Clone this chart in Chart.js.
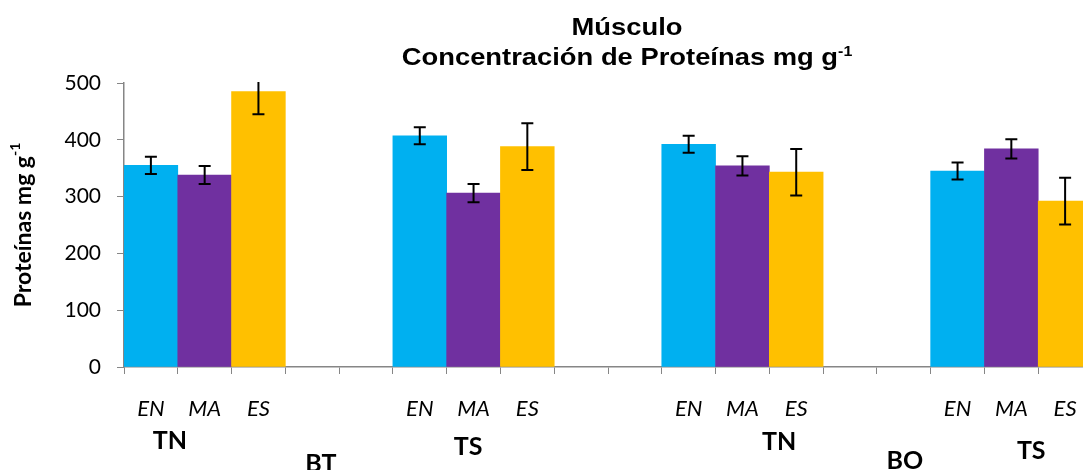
<!DOCTYPE html>
<html lang="es">
  <head>
    <meta charset="UTF-8" />
    <title>Músculo - Concentración de Proteínas</title>
    <style>
      body {
        margin: 0;
        background: white;
        overflow: hidden;
      }
      .chart-container {
        position: relative;
        width: 1100px;
        height: 470px;
      }
    </style>
    <script src="https://cdn.jsdelivr.net/npm/chart.js@4/dist/chart.umd.min.js"></script>
  </head>
  <body>
    <div class="chart-container">
      <canvas id="barChart"></canvas>
    </div>

    <script>
      // Datos
      const categorias = ["EN", "MA", "ES", "", "", "EN", "MA", "ES", "", "", "EN", "MA", "ES", "", "", "EN", "MA", "ES"];
      const proteinas = [355, 338, 485, null, null, 407, 306, 388, null, null, 392, 354, 343, null, null, 345, 384, 292];
      const errores = [15, 16, 40, null, null, 15, 16, 41, null, null, 15, 17, 41, null, null, 15, 17, 41];
      const grupos = ["TN", "BT", "TS", "TN", "BO", "TS"];
      const yTicks = [0, 100, 200, 300, 400, 500];

      // posición de las etiquetas de grupo (en anchos de categoría, px)
      const grupoPos = [
        [0.855, 441],
        [3.66, 464],
        [6.4, 447],
        [12.18, 442],
        [14.52, 461],
        [16.87, 451],
      ];

      const colorPorEtiqueta = { EN: "#00B0F0", MA: "#7030A0", ES: "#FFC000" };
      const colores = categorias.map((c) => colorPorEtiqueta[c] || "transparent");
      const gris = "#868686";

      // texto con superíndice, centrado en x
      function textoSup(ctx, base, sup, x, y, size, font) {
        const supSize = Math.round(size * 0.6);
        ctx.font = "bold " + size + "px " + font;
        const wb = ctx.measureText(base).width;
        ctx.font = "bold " + supSize + "px " + font;
        const ws = ctx.measureText(sup).width;
        const x0 = x - (wb + ws) / 2;
        ctx.textAlign = "left";
        ctx.font = "bold " + size + "px " + font;
        ctx.fillText(base, x0, y);
        ctx.font = "bold " + supSize + "px " + font;
        ctx.fillText(sup, x0 + wb, y - size * 0.38);
      }

      const extras = {
        id: "extras",
        afterDatasetsDraw(chart) {
          const { ctx, chartArea, scales } = chart;
          const x = scales.x;
          const y = scales.y;
          // barras de error
          ctx.save();
          ctx.beginPath();
          ctx.rect(chartArea.left, chartArea.top - 1, chartArea.right - chartArea.left, chartArea.bottom - chartArea.top + 1);
          ctx.clip();
          ctx.strokeStyle = "#000";
          ctx.lineWidth = 2;
          proteinas.forEach((v, i) => {
            if (v === null) return;
            const px = x.getPixelForValue(i);
            const top = y.getPixelForValue(v + errores[i]);
            const bot = y.getPixelForValue(v - errores[i]);
            ctx.beginPath();
            ctx.moveTo(px, top);
            ctx.lineTo(px, bot);
            ctx.moveTo(px - 6, top);
            ctx.lineTo(px + 6, top);
            ctx.moveTo(px - 6, bot);
            ctx.lineTo(px + 6, bot);
            ctx.stroke();
          });
          ctx.restore();
        },
        afterDraw(chart) {
          const { ctx, chartArea } = chart;
          const ancho = (chartArea.right - chartArea.left) / categorias.length;
          ctx.save();
          ctx.fillStyle = "#000";
          ctx.textBaseline = "middle";
          // etiquetas de grupo
          ctx.textAlign = "center";
          ctx.font = "bold 25px Lato";
          grupos.forEach((g, i) => {
            ctx.fillText(g, chartArea.left + grupoPos[i][0] * ancho, grupoPos[i][1]);
          });
          // título (algo ensanchado, como en el original)
          ctx.save();
          ctx.textBaseline = "alphabetic";
          ctx.translate(627, 0);
          ctx.scale(1.14, 1);
          ctx.textAlign = "center";
          ctx.font = "bold 24px 'Liberation Sans'";
          ctx.fillText("Músculo", 0, 35);
          textoSup(ctx, "Concentración de Proteínas mg g", "-1", 0, 65, 24, "'Liberation Sans'");
          ctx.restore();
          // título del eje y
          ctx.translate(24, (chartArea.top + chartArea.bottom) / 2);
          ctx.rotate(-Math.PI / 2);
          textoSup(ctx, "Proteínas mg g", "-1", 0, 0, 23, "Lato");
          ctx.restore();
        },
      };

      const ctx = document.getElementById("barChart").getContext("2d");
      new Chart(ctx, {
        type: "bar",
        data: {
          labels: categorias,
          datasets: [
            {
              data: proteinas,
              backgroundColor: colores,
              categoryPercentage: 1,
              barPercentage: 1,
            },
          ],
        },
        options: {
          responsive: true,
          maintainAspectRatio: false,
          animation: false,
          layout: { padding: { top: 83, right: 8, left: 0, bottom: 0 } },
          plugins: {
            legend: { display: false },
            tooltip: { enabled: false },
          },
          scales: {
            x: {
              offset: true,
              grid: {
                offset: true,
                drawOnChartArea: false,
                color: gris,
                tickLength: 7,
              },
              border: { color: gris, width: 1.5 },
              ticks: {
                autoSkip: false,
                maxRotation: 0,
                padding: 22,
                color: "#000",
                font: { family: "Lato", size: 22, style: "italic" },
              },
              afterFit: (s) => {
                s.height = 103;
              },
            },
            y: {
              min: 0,
              max: 500,
              afterBuildTicks: (s) => {
                s.ticks = yTicks.map((v) => ({ value: v }));
              },
              grid: {
                drawOnChartArea: false,
                color: gris,
                tickLength: 7,
              },
              border: { color: gris, width: 1.5 },
              ticks: {
                padding: 16,
                color: "#000",
                font: { family: "Lato", size: 21 },
              },
              afterFit: (s) => {
                s.width = 124;
              },
            },
          },
        },
        plugins: [extras],
      });
    </script>
  </body>
</html>
